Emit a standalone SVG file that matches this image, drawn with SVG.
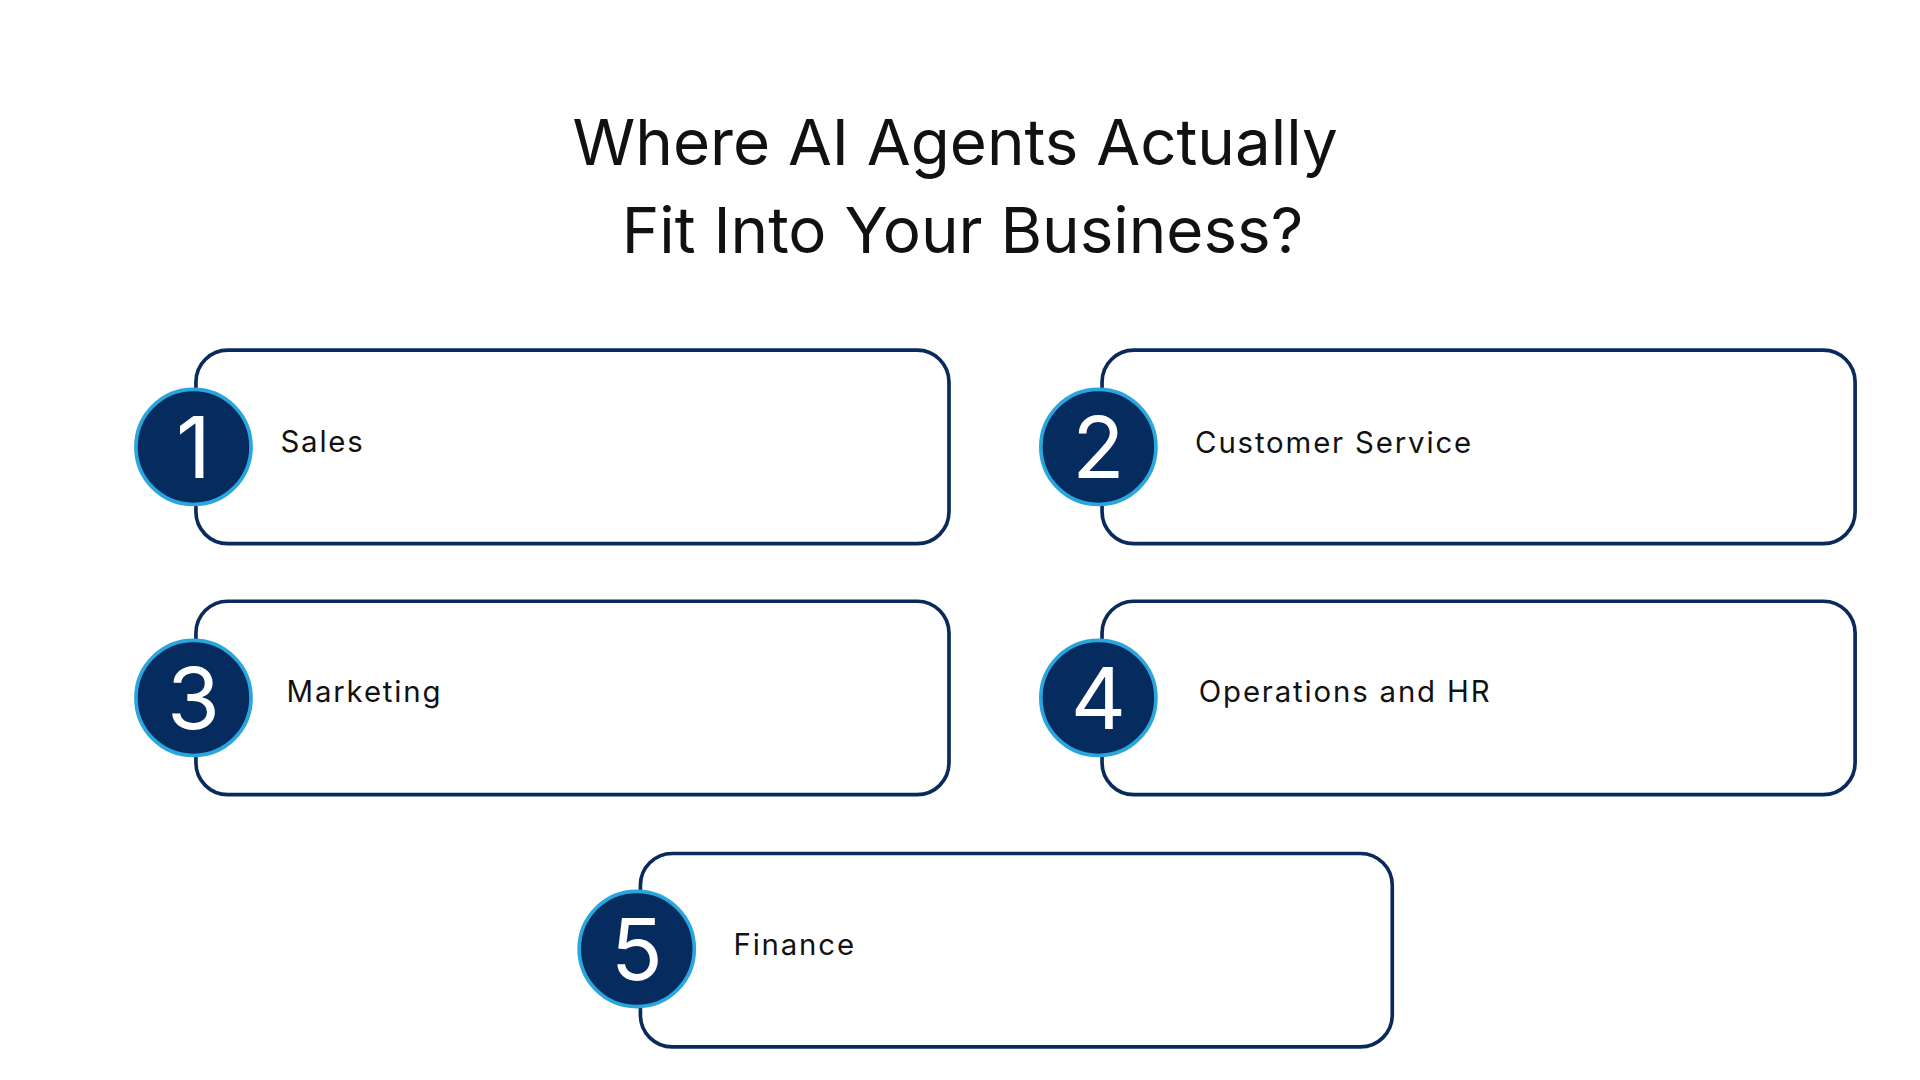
<svg xmlns="http://www.w3.org/2000/svg" width="1920" height="1080" viewBox="0 0 1920 1080">
<style>
.card{fill:#fff;stroke:#0b2a5c;stroke-width:3}
.badge{fill:#062b5f;stroke:#2aa6df;stroke-width:3}
.num{font-family:Inter,"Noto Sans",sans-serif;font-size:70px;fill:#fff;text-anchor:middle}
.lbl{font-family:Inter,"Noto Sans",sans-serif;font-size:24px;fill:#111;letter-spacing:1.5px}
.title{font-family:Inter,"Noto Sans",sans-serif;font-size:52px;fill:#111;text-anchor:middle}
</style>
<rect width="1920" height="1080" fill="#fff"/>
<g transform="scale(1.2245)">
<g id="title"><text class="title" x="780" y="135">Where AI Agents Actually</text><text class="title" x="786" y="207">Fit Into Your Business?</text></g>
<g id="node1"><rect class="card" x="160" y="286" width="615" height="158" rx="26"/><circle class="badge" cx="158" cy="365" r="47"/><text class="num" x="158" y="390">1</text><text class="lbl" x="229" y="369">Sales</text></g>
<g id="node2"><rect class="card" x="900" y="286" width="615" height="158" rx="26"/><circle class="badge" cx="897" cy="365" r="47"/><text class="num" x="897" y="390">2</text><text class="lbl" x="976" y="370">Customer Service</text></g>
<g id="node3"><rect class="card" x="160" y="491" width="615" height="158" rx="26"/><circle class="badge" cx="158" cy="570" r="47"/><text class="num" x="158" y="595">3</text><text class="lbl" x="234" y="573">Marketing</text></g>
<g id="node4"><rect class="card" x="900" y="491" width="615" height="158" rx="26"/><circle class="badge" cx="897" cy="570" r="47"/><text class="num" x="897" y="595">4</text><text class="lbl" x="979" y="573">Operations and HR</text></g>
<g id="node5"><rect class="card" x="523" y="697" width="614" height="158" rx="26"/><circle class="badge" cx="520" cy="775" r="47"/><text class="num" x="520" y="800">5</text><text class="lbl" x="599" y="780">Finance</text></g>
<g id="connectors"/>
</g>
</svg>
